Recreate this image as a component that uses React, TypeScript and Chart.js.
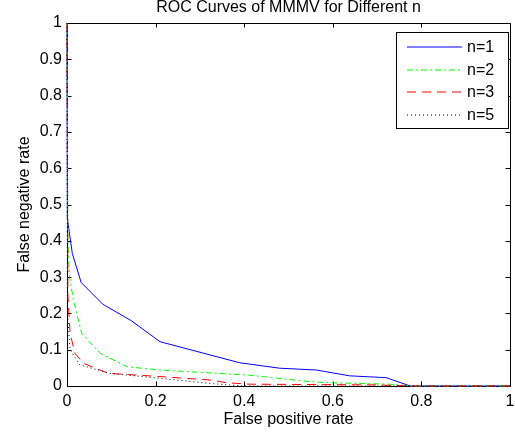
import React, { useEffect, useRef } from "react";
import { Chart, registerables } from "chart.js";

Chart.register(...registerables);

const TITLE = "ROC Curves of MMMV for Different n";
const X_LABEL = "False positive rate";
const Y_LABEL = "False negative rate";
const SERIES_NAMES = ["n=1", "n=2", "n=3", "n=5"];
const SERIES_COLORS = ["#0000ff", "#00ff00", "#ff0000", "#000000"];

const n1X = [0, 0.001, 0.012, 0.032, 0.081, 0.145, 0.21, 0.39, 0.48, 0.563, 0.638, 0.72, 0.775, 1];
const n1Y = [1, 0.46, 0.365, 0.285, 0.225, 0.18, 0.122, 0.064, 0.049, 0.044, 0.028, 0.023, 0, 0];

const n2X = [0, 0.002, 0.006, 0.014, 0.033, 0.075, 0.135, 0.21, 0.41, 0.548, 0.594, 0.728, 0.775, 1];
const n2Y = [1, 0.4, 0.3, 0.24, 0.145, 0.09, 0.053, 0.044, 0.03, 0.012, 0.009, 0.005, 0, 0];

const n3X = [0, 0.002, 0.007, 0.018, 0.037, 0.093, 0.21, 0.323, 0.36, 0.413, 0.7, 0.775, 1];
const n3Y = [1, 0.25, 0.145, 0.09, 0.0625, 0.035, 0.026, 0.0165, 0.009, 0.005, 0.003, 0, 0];

const n5X = [0, 0.001, 0.007, 0.029, 0.097, 0.21, 0.323, 0.4, 1];
const n5Y = [1, 0.2, 0.1, 0.058, 0.035, 0.021, 0.007, 0, 0];

const X_TICKS = [0, 0.2, 0.4, 0.6, 0.8, 1];
const Y_TICKS = [0, 0.1, 0.2, 0.3, 0.4, 0.5, 0.6, 0.7, 0.8, 0.9, 1];

const DASHES: number[][] = [[], [6, 3, 2, 3], [9, 6], [1, 3]];

const FONT = "'Liberation Sans', Arial, Helvetica, sans-serif";

function pts(xs: number[], ys: number[]) {
  return xs.map((x, i) => ({ x, y: ys[i] }));
}

const framePlugin = {
  id: "matlabFrame",
  beforeDatasetsDraw(chart: any) {
    const { ctx, chartArea } = chart;
    const { left, right, top, bottom } = chartArea;
    const xs = chart.scales.x;
    const ys = chart.scales.y;
    const tl = 4.5;
    ctx.save();
    ctx.strokeStyle = "#000";
    ctx.lineWidth = 1;
    ctx.beginPath();
    ctx.rect(left + 0.5, top + 0.5, right - left, bottom - top);
    ctx.stroke();
    ctx.beginPath();
    for (const v of X_TICKS) {
      const px = Math.round(xs.getPixelForValue(v)) + 0.5;
      ctx.moveTo(px, bottom);
      ctx.lineTo(px, bottom - tl);
      ctx.moveTo(px, top);
      ctx.lineTo(px, top + tl);
    }
    for (const v of Y_TICKS) {
      const py = Math.round(ys.getPixelForValue(v)) + 0.5;
      ctx.moveTo(left, py);
      ctx.lineTo(left + tl, py);
      ctx.moveTo(right, py);
      ctx.lineTo(right - tl, py);
    }
    ctx.stroke();
    ctx.restore();
  },
  afterDraw(chart: any) {
    const { ctx, chartArea } = chart;
    ctx.save();
    ctx.fillStyle = "#000";
    ctx.font = `16px ${FONT}`;
    ctx.textAlign = "center";
    ctx.textBaseline = "alphabetic";
    ctx.fillText(TITLE, (chartArea.left + chartArea.right) / 2, 12);
    const bx = 396, by = 32, bw = 112, bh = 96;
    ctx.fillStyle = "#fff";
    ctx.fillRect(bx, by, bw, bh);
    ctx.strokeStyle = "#000";
    ctx.lineWidth = 1;
    ctx.strokeRect(bx + 0.5, by + 0.5, bw, bh);
    const rowY = [47, 70, 92, 115];
    SERIES_NAMES.forEach((name, i) => {
      ctx.strokeStyle = SERIES_COLORS[i];
      ctx.lineWidth = 1;
      ctx.setLineDash(DASHES[i]);
      ctx.beginPath();
      ctx.moveTo(407, rowY[i]);
      ctx.lineTo(462, rowY[i]);
      ctx.stroke();
      ctx.setLineDash([]);
      ctx.fillStyle = "#000";
      ctx.font = `16px ${FONT}`;
      ctx.textAlign = "left";
      ctx.textBaseline = "middle";
      ctx.fillText(name, 467, rowY[i] + 1);
    });
    ctx.restore();
  },
};

export default function App() {
  const ref = useRef<HTMLCanvasElement | null>(null);

  useEffect(() => {
    if (!ref.current) return;
    const seriesX = [n1X, n2X, n3X, n5X];
    const seriesY = [n1Y, n2Y, n3Y, n5Y];
    const datasets = SERIES_NAMES.map((name, i) => ({
      label: name,
      data: pts(seriesX[i], seriesY[i]),
      borderColor: SERIES_COLORS[i],
      backgroundColor: SERIES_COLORS[i],
      borderWidth: 1,
      borderDash: DASHES[i],
      pointRadius: 0,
      fill: false,
      tension: 0,
      showLine: true,
      clip: false as any,
      order: 3 - i,
    }));
    const chart = new Chart(ref.current, {
      type: "scatter",
      data: { datasets },
      plugins: [framePlugin],
      options: {
        animation: false,
        responsive: false,
        events: [],
        layout: { padding: { top: 23, right: 5, left: 0, bottom: 0 } },
        plugins: {
          legend: { display: false },
          tooltip: { enabled: false },
          title: { display: false },
        },
        scales: {
          x: {
            type: "linear",
            min: 0,
            max: 1,
            afterBuildTicks: (s: any) => {
              s.ticks = X_TICKS.map((v) => ({ value: v }));
            },
            afterFit: (s: any) => {
              s.height = 47;
              s.paddingLeft = 0;
              s.paddingRight = 0;
            },
            grid: { display: false, drawTicks: false },
            border: { display: false },
            ticks: {
              color: "#000",
              font: { family: FONT, size: 16 },
              padding: 6,
              maxRotation: 0,
              autoSkip: false,
              callback: (v: any) => String(Math.round(Number(v) * 10) / 10),
            },
            title: {
              display: true,
              text: X_LABEL,
              color: "#000",
              font: { family: FONT, size: 16 },
              padding: { top: 0, bottom: 4 },
            },
          },
          y: {
            type: "linear",
            min: 0,
            max: 1,
            afterBuildTicks: (s: any) => {
              s.ticks = Y_TICKS.map((v) => ({ value: v }));
            },
            afterFit: (s: any) => {
              s.width = 67;
              s.paddingTop = 0;
              s.paddingBottom = 0;
            },
            grid: { display: false, drawTicks: false },
            border: { display: false },
            ticks: {
              color: "#000",
              font: { family: FONT, size: 16 },
              padding: 5,
              autoSkip: false,
              callback: (v: any) => String(Math.round(Number(v) * 10) / 10),
            },
            title: {
              display: true,
              text: Y_LABEL,
              color: "#000",
              font: { family: FONT, size: 16 },
              padding: { top: 15, bottom: 0 },
            },
          },
        },
      },
    });
    return () => chart.destroy();
  }, []);

  return (
    <div style={{ position: "fixed", left: 0, top: 0, width: 515, height: 433, background: "#fff" }}>
      <canvas ref={ref} width={515} height={433} style={{ display: "block", width: 515, height: 433 }} />
    </div>
  );
}
